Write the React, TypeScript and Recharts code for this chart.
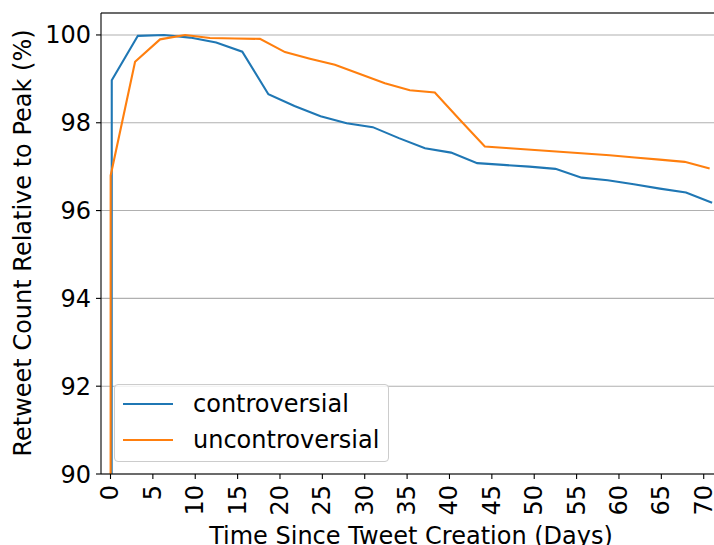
import { LineChart, Line, XAxis, YAxis, CartesianGrid, ReferenceLine } from 'recharts'

// days since creation, % of peak retweets
const controversialDays = [
  0.1, 0.15, 3.23, 6.31, 9.39, 12.47, 15.55, 18.63, 21.71, 24.79, 27.87, 30.95, 34.03,
  37.11, 40.19, 43.27, 46.35, 49.43, 52.51, 55.59, 58.67, 61.75, 64.83, 67.91, 70.99,
]
const controversialPct = [
  60, 98.97, 99.98, 100.0, 99.94, 99.83, 99.62, 98.65, 98.38, 98.15, 97.99, 97.9, 97.65,
  97.42, 97.32, 97.08, 97.04, 97.0, 96.95, 96.75, 96.69, 96.6, 96.5, 96.41, 96.18,
]
const uncontroversialDays = [
  0.0, 0.02, 2.9, 5.85, 8.8, 11.74, 14.69, 17.64, 20.59, 23.53, 26.48, 29.43, 32.38,
  35.32, 38.27, 41.22, 44.17, 47.11, 50.06, 53.01, 55.96, 58.9, 61.85, 64.8, 67.75, 70.7,
]
const uncontroversialPct = [
  60, 96.8, 99.39, 99.9, 100.0, 99.93, 99.92, 99.91, 99.61, 99.46, 99.32, 99.11, 98.9,
  98.74, 98.69, 98.07, 97.46, 97.42, 97.38, 97.34, 97.3, 97.26, 97.21, 97.16, 97.11, 96.96,
]
const xTicks = [0, 5, 10, 15, 20, 25, 30, 35, 40, 45, 50, 55, 60, 65, 70]
const yTicks = [90, 92, 94, 96, 98, 100]

const series = [
  { name: 'controversial', color: '#1f77b4' },
  { name: 'uncontroversial', color: '#ff7f0e' },
]

const controversialData = controversialDays.map((x, i) => ({ x, y: controversialPct[i] }))
const uncontroversialData = uncontroversialDays.map((x, i) => ({ x, y: uncontroversialPct[i] }))

const FONT = 'DejaVu Sans'
const FS = 24

function XTick(props: any) {
  const { x, y, payload } = props
  return (
    <text
      x={x}
      y={y}
      transform={`rotate(-90 ${x} ${y})`}
      textAnchor="end"
      dominantBaseline="central"
      fontSize={FS}
      fontFamily={FONT}
      fill="#000"
    >
      {payload.value}
    </text>
  )
}

// legend drawn as an overlay so it doesn't eat into the plot area
function LegendBox() {
  return (
    <div
      style={{
        position: 'absolute',
        left: 114,
        top: 384,
        width: 273,
        height: 76,
        border: '1px solid #cccccc',
        borderRadius: 4,
        background: 'rgba(255,255,255,0.8)',
        fontFamily: FONT,
        fontSize: FS,
      }}
    >
      {series.map((s, i) => (
        <div
          key={s.name}
          style={{ position: 'absolute', left: 8, top: 5 + i * 36, height: 28, display: 'flex', alignItems: 'center' }}
        >
          <div style={{ width: 50, height: 2.2, background: s.color }} />
          <span style={{ marginLeft: 20, color: '#000', lineHeight: '28px', whiteSpace: 'nowrap' }}>{s.name}</span>
        </div>
      ))}
    </div>
  )
}

export default function App() {
  return (
    <div style={{ position: 'absolute', left: 0, top: 0, width: 714, height: 545, overflow: 'hidden', background: '#fff' }}>
      <LineChart width={721} height={545} margin={{ top: 13, right: 0, left: 0, bottom: 0 }}>
        <CartesianGrid vertical={false} stroke="#b0b0b0" strokeWidth={1.1} />
        <XAxis
          dataKey="x"
          type="number"
          domain={[-1.12, 72.04]}
          allowDataOverflow
          ticks={xTicks}
          height={71}
          tick={<XTick />}
          tickSize={5}
          tickMargin={6}
          tickLine={{ stroke: '#000', strokeWidth: 1.1 }}
          axisLine={{ stroke: '#000', strokeWidth: 1.1 }}
          label={{
            value: 'Time Since Tweet Creation (Days)',
            position: 'insideBottom',
            offset: 1.5,
            fontSize: FS,
            fontFamily: FONT,
            fill: '#000',
          }}
        />
        <YAxis
          type="number"
          domain={[90, 100.5]}
          allowDataOverflow
          ticks={yTicks}
          width={101}
          tickSize={5}
          tickMargin={5}
          tick={{ fontSize: FS, fontFamily: FONT, fill: '#000' }}
          tickLine={{ stroke: '#000', strokeWidth: 1.1 }}
          axisLine={{ stroke: '#000', strokeWidth: 1.1 }}
          label={{
            content: () => (
              <text
                x={30.8}
                y={243}
                transform="rotate(-90 30.8 243)"
                textAnchor="middle"
                fontSize={FS}
                fontFamily={FONT}
                fill="#000"
              >
                Retweet Count Relative to Peak (%)
              </text>
            ),
          }}
        />
        <ReferenceLine y={100.5} stroke="#000" strokeWidth={1.1} ifOverflow="visible" />
        <Line
          data={controversialData}
          dataKey="y"
          name="controversial"
          type="linear"
          stroke="#1f77b4"
          strokeWidth={2.1}
          dot={false}
          isAnimationActive={false}
        />
        <Line
          data={uncontroversialData}
          dataKey="y"
          name="uncontroversial"
          type="linear"
          stroke="#ff7f0e"
          strokeWidth={2.1}
          dot={false}
          isAnimationActive={false}
        />
      </LineChart>
      <LegendBox />
    </div>
  )
}
